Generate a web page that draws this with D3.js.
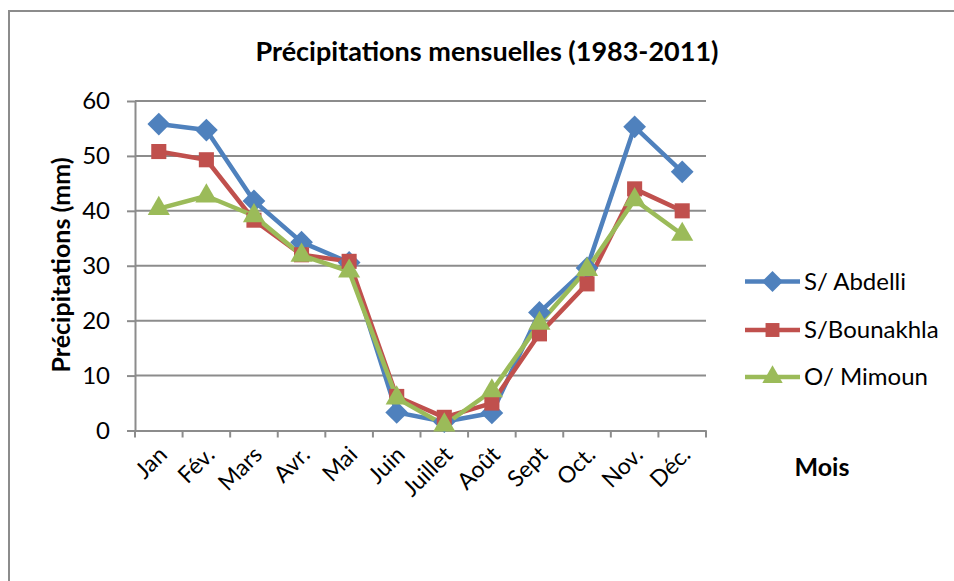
<!DOCTYPE html>
<html><head><meta charset="utf-8">
<script src="https://cdn.jsdelivr.net/npm/d3@7"></script>
<style>body{margin:0;background:#fff}svg{display:block}text{font-family:Lato,"Open Sans",sans-serif}</style>
</head><body><svg id="c" width="954" height="581"></svg>
<script>
const months = ["Jan","Fév.","Mars","Avr.","Mai","Juin","Juillet","Août","Sept","Oct.","Nov.","Déc."];
const abdelli = [55.8,54.7,41.8,34.3,30.6,3.3,1.6,3.2,21.5,29.6,55.3,47.1];
const bounakhla = [50.8,49.3,38.3,32.0,30.8,6.2,2.4,5.0,17.6,26.7,44.0,40.0];
const mimoun = [40.4,42.7,39.1,31.9,29.0,5.9,1.0,7.2,19.5,29.3,42.0,35.7];
const yTicks = [0,10,20,30,40,50,60];
const seriesNames = ["S/ Abdelli","S/Bounakhla","O/ Mimoun"];
const colors = ["#4F81BD","#C0504D","#9BBB59"];
const shapes = [d3.symbolDiamond2, d3.symbolSquare2, d3.symbolTriangle2];

const svg = d3.select("#c");
svg.append("rect").attr("x",9).attr("y",11).attr("width",960).attr("height",590)
  .attr("fill","none").attr("stroke","#8c8c8c").attr("stroke-width",2);

const L=135,R=706,T=101,B=430.5;
const x = d3.scaleBand().domain(months).range([L,R]);
const y = d3.scaleLinear().domain([0,60]).range([B,T]);

svg.append("g").selectAll("line").data(yTicks.filter(d=>d>0)).join("line")
  .attr("x1",L).attr("x2",R).attr("y1",d=>y(d)).attr("y2",d=>y(d))
  .attr("stroke","#8c8c8c").attr("stroke-width",2);

const ya = svg.append("g").attr("transform",`translate(${L},0)`)
  .call(d3.axisLeft(y).tickValues(yTicks).tickSize(8).tickPadding(17).tickSizeOuter(0));
ya.select(".domain").attr("stroke","#8c8c8c").attr("stroke-width",2);
ya.selectAll(".tick line").attr("stroke","#8c8c8c").attr("stroke-width",2);
ya.selectAll("text").attr("font-size",24).attr("fill","#000").attr("font-family","Lato,sans-serif");

const xa = svg.append("g").attr("transform",`translate(0,${B})`)
  .call(d3.axisBottom(x).tickSize(0).tickFormat(""));
xa.select(".domain").attr("stroke","#8c8c8c").attr("stroke-width",2);
const bounds = months.map(m=>x(m)).concat([R]);
svg.append("g").selectAll("line").data(bounds).join("line")
  .attr("x1",d=>d).attr("x2",d=>d).attr("y1",B).attr("y2",B+7)
  .attr("stroke","#8c8c8c").attr("stroke-width",2);

svg.append("g").selectAll("text").data(months).join("text")
  .attr("transform",d=>`translate(${x(d)+x.bandwidth()/2+4},${B+20}) rotate(-45)`)
  .attr("text-anchor","end").attr("dy","0.35em").attr("font-size",23).text(d=>d);

const data=[abdelli,bounakhla,mimoun];
const line=d3.line().x((d,i)=>x(months[i])+x.bandwidth()/2).y(d=>y(d));
const sizes=[330,290,350];
data.forEach((s,k)=>{
  svg.append("path").datum(s).attr("d",line).attr("fill","none")
    .attr("stroke",colors[k]).attr("stroke-width",4.5).attr("stroke-linejoin","round");
});
data.forEach((s,k)=>{
  svg.append("g").selectAll("path").data(s).join("path")
    .attr("transform",(d,i)=>`translate(${x(months[i])+x.bandwidth()/2},${y(d)})`)
    .attr("d",d3.symbol().type(shapes[k]).size(sizes[k])).attr("fill",colors[k]);
});

const legY=[281.5,330,377];
seriesNames.forEach((n,k)=>{
  const g=svg.append("g");
  g.append("line").attr("x1",745).attr("x2",800).attr("y1",legY[k]).attr("y2",legY[k])
    .attr("stroke",colors[k]).attr("stroke-width",4.5);
  g.append("path").attr("transform",`translate(772.5,${legY[k]})`)
    .attr("d",d3.symbol().type(shapes[k]).size(sizes[k]*0.85)).attr("fill",colors[k]);
  g.append("text").attr("x",804).attr("y",legY[k]).attr("dy","0.35em").attr("font-size",24).text(n);
});

svg.append("text").attr("x",487).attr("y",61).attr("text-anchor","middle")
  .attr("font-size",27).attr("font-weight","bold").text("Précipitations mensuelles (1983-2011)");
svg.append("text").attr("transform","translate(70,265) rotate(-90)").attr("text-anchor","middle")
  .attr("font-size",25).attr("font-weight","bold").text("Précipitations (mm)");
svg.append("text").attr("x",822).attr("y",476).attr("text-anchor","middle")
  .attr("font-size",25).attr("font-weight","bold").text("Mois");
</script></body></html>
